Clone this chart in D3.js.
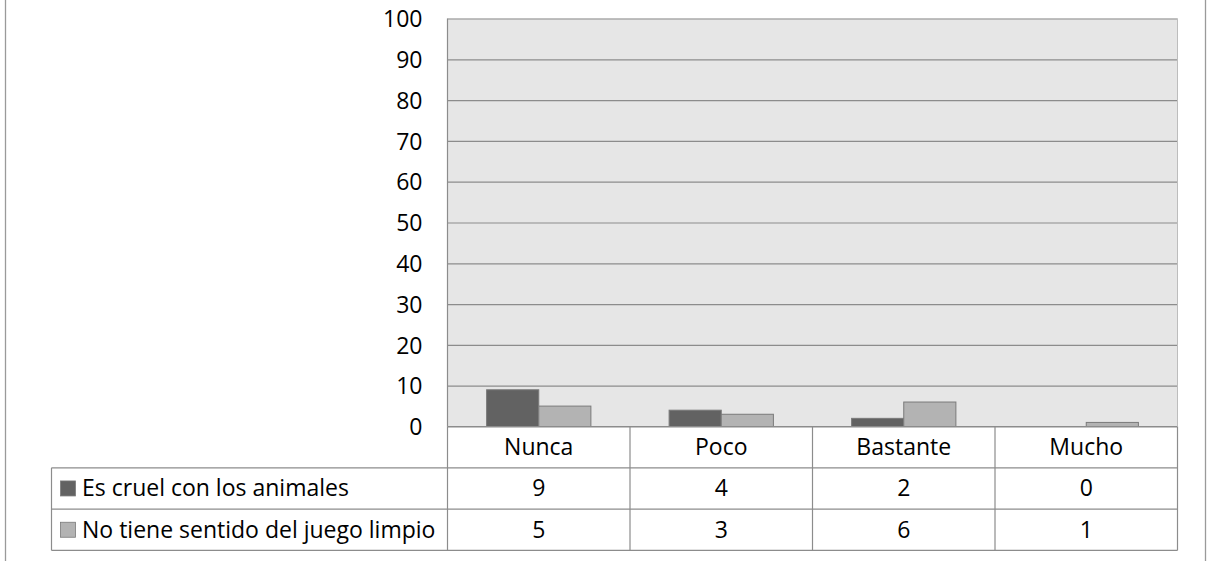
<!DOCTYPE html>
<html>
<head>
<meta charset="utf-8">
<script src="https://cdn.jsdelivr.net/npm/d3@7"></script>
<style>
  body { margin: 0; background: #fff; }
  svg { display: block; font-family: "Open Sans", sans-serif; }
</style>
</head>
<body>
<svg id="chart" width="1208" height="561"></svg>
<script>
var categories = ["Nunca", "Poco", "Bastante", "Mucho"];
var seriesNames = ["Es cruel con los animales", "No tiene sentido del juego limpio"];
var cruel = [9, 4, 2, 0];
var juegoLimpio = [5, 3, 6, 1];
var yTicks = [0, 10, 20, 30, 40, 50, 60, 70, 80, 90, 100];

var seriesValues = [cruel, juegoLimpio];
var colors = ["#626262", "#b3b3b3"];

var svg = d3.select("#chart");
var width = 1208, height = 561;
var plot = {left: 447.5, right: 1177.5, top: 18.5, bottom: 426.5};
var rowH = 41.3,
    legendLeft = 51.5,
    fontSize = 23,
    fontFamily = "'Open Sans', sans-serif";

// outer frame lines
svg.append("line").attr("x1", 5.5).attr("x2", 5.5).attr("y1", 0).attr("y2", height)
    .attr("stroke", "#9a9a9a").attr("stroke-width", 1.3)
svg.append("line").attr("x1", 1205.5).attr("x2", 1205.5).attr("y1", 0).attr("y2", height)
    .attr("stroke", "#9a9a9a").attr("stroke-width", 1.3)

var xScale = d3.scaleBand()
    .domain(categories)
    .range([plot.left, plot.right]);
var inner = d3.scaleBand()
    .domain(d3.range(seriesNames.length))
    .range([0, xScale.bandwidth()])
    .paddingOuter(0.75);
var yScale = d3.scaleLinear()
    .domain([0, 100])
    .range([plot.bottom, plot.top]);

svg.append("rect")
    .attr("x", plot.left).attr("y", plot.top)
    .attr("width", plot.right - plot.left)
    .attr("height", plot.bottom - plot.top)
    .attr("fill", "#e6e6e6")

var yAxis = d3.axisLeft(yScale)
    .tickValues(yTicks)
    .tickSize(-(plot.right - plot.left))
    .tickPadding(25)
    .tickFormat(d3.format("d"));

var gy = svg.append("g")
    .attr("transform", "translate(" + plot.left + ",0)")
    .call(yAxis)
    .attr("font-size", fontSize)
    .attr("font-family", fontFamily);
gy.select(".domain").remove();
gy.selectAll(".tick line").attr("stroke", "#8c8c8c").attr("stroke-width", 1.2);
gy.selectAll(".tick text").attr("fill", "#000").attr("dy", "0.36em");

// left edge of plot
svg.append("line")
    .attr("x1", plot.left).attr("x2", plot.left)
    .attr("y1", plot.top).attr("y2", plot.bottom)
    .attr("stroke", "#8c8c8c").attr("stroke-width", 1.2)

// bars
seriesValues.forEach(function (vals, s) {
    svg.append("g").selectAll("rect")
        .data(vals)
        .enter()
        .append("rect")
        .attr("x", function (d, i) { return xScale(categories[i]) + inner(s); })
        .attr("y", function (d) { return yScale(d); })
        .attr("width", inner.bandwidth())
        .attr("height", function (d) { return yScale(0) - yScale(d); })
        .attr("fill", colors[s])
        .attr("stroke", "#7a7a7a")
        .attr("stroke-width", function (d) { return d > 0 ? 1 : 0; })
});

// data table
var tableTop = plot.bottom;
var lineColor = "#8c8c8c";
var table = svg.append("g")
    .attr("font-size", fontSize)
    .attr("font-family", fontFamily);
var textOffset = 8;

// header row with categories
categories.forEach(function (c, i) {
    table.append("text")
        .attr("x", xScale(c) + xScale.bandwidth() / 2)
        .attr("y", tableTop + rowH / 2 + textOffset)
        .attr("text-anchor", "middle")
        .text(c)
});

seriesNames.forEach(function (name, s) {
    var y0 = tableTop + rowH * (s + 1);
    table.append("rect")
        .attr("x", legendLeft + 9)
        .attr("y", y0 + rowH / 2 - 7.5)
        .attr("width", 15).attr("height", 15)
        .attr("fill", colors[s])
        .attr("stroke", "#7a7a7a")
        .attr("stroke-width", 0.8)
    table.append("text")
        .attr("x", legendLeft + 30.5)
        .attr("y", y0 + rowH / 2 + textOffset)
        .text(name)
    seriesValues[s].forEach(function (v, i) {
        table.append("text")
            .attr("x", xScale(categories[i]) + xScale.bandwidth() / 2)
            .attr("y", y0 + rowH / 2 + textOffset)
            .attr("text-anchor", "middle")
            .text(v)
    })
});

// table horizontal lines
[0, 1, 2, 3].forEach(function (r) {
    var y = tableTop + rowH * r;
    table.append("line")
        .attr("x1", r === 0 ? plot.left : legendLeft).attr("x2", plot.right)
        .attr("y1", y).attr("y2", y)
        .attr("stroke", lineColor).attr("stroke-width", 1.2)
});
// vertical lines
var vx = [legendLeft, plot.left].concat(categories.map(function (c) { return xScale(c) + xScale.bandwidth(); }));
vx.forEach(function (x, k) {
    table.append("line")
        .attr("x1", x).attr("x2", x)
        .attr("y1", k === 0 ? tableTop + rowH : tableTop)
        .attr("y2", tableTop + rowH * 3)
        .attr("stroke", lineColor).attr("stroke-width", 1.2)
});
// right edge of plot area
svg.append("line")
    .attr("x1", plot.right).attr("x2", plot.right)
    .attr("y1", plot.top).attr("y2", plot.bottom)
    .attr("stroke", "#bdbdbd").attr("stroke-width", 1)
</script>
</body>
</html>
